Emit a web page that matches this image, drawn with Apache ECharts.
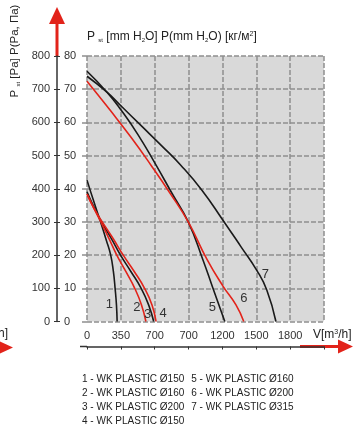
<!DOCTYPE html>
<html>
<head>
<meta charset="utf-8">
<script src="https://cdn.jsdelivr.net/npm/echarts@6/dist/echarts.min.js"></script>
<style>
  html, body { margin: 0; padding: 0; background: #fff; }
  #chart { width: 353px; height: 426px; }
</style>
</head>
<body>
<div id="chart"></div>
<script>
// x runs over the 7 grid columns, the printed flow values are just labels on them
const xTickLabels = ['0', '350', '700', '700', '1200', '1500', '1800', '']
const curveNames = [
  '1 - WK PLASTIC Ø150',
  '2 - WK PLASTIC Ø160',
  '3 - WK PLASTIC Ø200',
  '4 - WK PLASTIC Ø150',
  '5 - WK PLASTIC Ø160',
  '6 - WK PLASTIC Ø200',
  '7 - WK PLASTIC Ø315',
]
// [column, Pa]
const curve1 = [[0, 426], [0.18, 368], [0.4, 300], [0.57, 245], [0.7, 200], [0.78, 150], [0.83, 100], [0.87, 50], [0.89, 0]]
const curve2 = [[0, 384], [0.2, 342], [0.41, 300], [0.65, 250], [0.88, 200], [1.15, 150], [1.41, 100], [1.61, 50], [1.74, 0]]
const curve3 = [[0, 391], [0.2, 346], [0.43, 300], [0.72, 250], [0.99, 200], [1.3, 150], [1.6, 100], [1.82, 50], [1.97, 0]]
const curve4 = [[0, 384], [0.2, 342], [0.45, 300], [0.77, 250], [1.07, 200], [1.4, 150], [1.7, 100], [1.92, 50], [2.04, 0]]
const curve5 = [[0, 754], [0.59, 691], [1.0, 638], [1.5, 564], [2.04, 471], [2.5, 388], [2.99, 300], [3.42, 187], [3.72, 100], [4.07, 0]]
const curve6 = [[0, 724], [0.68, 637], [1.3, 555], [1.89, 471], [2.45, 387], [2.99, 300], [3.54, 188], [4.02, 106], [4.4, 50], [4.63, 0]]
const curve7 = [[0, 739], [0.59, 691], [1.0, 650], [1.6, 590], [2.2, 530], [2.77, 471], [3.4, 395], [4.01, 306], [4.55, 225], [5.01, 155], [5.31, 95], [5.58, 0]]
const curveLabelAt = [[0.66, 50], [1.47, 41], [1.79, 20], [2.25, 23], [3.7, 41], [4.63, 71], [5.27, 142]]

const curves = [curve1, curve2, curve3, curve4, curve5, curve6, curve7]
const curveColors = ['#1a1a1a', '#e2231a', '#1a1a1a', '#e2231a', '#1a1a1a', '#e2231a', '#1a1a1a']

const RED = '#e2231a'
const FONT = 'Liberation Sans, Arial, sans-serif'
const gridDash = { color: '#8e8e8e', type: [5, 2], width: 1.5 }

const chart = echarts.init(document.getElementById('chart'))

chart.setOption({
  animation: false,
  textStyle: { fontFamily: FONT },
  grid: {
    left: 87, right: 29, top: 56, bottom: 104.5,
    show: true, backgroundColor: '#d9d9d9', borderWidth: 0,
  },
  title: {
    text: '{a|P }{s|st}{a| [mm H}{s|2}{a|O] P(mm H}{s|2}{a|O) [кг/м}{u|2}{a|]}',
    left: 82, top: 26,
    textStyle: {
      fontWeight: 'normal',
      rich: {
        a: { fontSize: 12, color: '#222', fontWeight: 'normal', fontFamily: FONT },
        s: { fontSize: 6, color: '#222', fontWeight: 'normal', verticalAlign: 'bottom', fontFamily: FONT },
        u: { fontSize: 7, color: '#222', fontWeight: 'normal', verticalAlign: 'top', fontFamily: FONT },
      },
    },
  },
  legend: {
    orient: 'vertical',
    left: 72, top: 368, height: 56,
    itemGap: 2, itemWidth: 0, itemHeight: 0, icon: 'rect',
    selectedMode: false,
    textStyle: { fontSize: 10, color: '#222', width: 101, lineHeight: 12, fontFamily: FONT },
  },
  xAxis: {
    type: 'value', min: 0, max: 7, interval: 1,
    position: 'bottom', offset: 25,
    axisLine: { onZero: false, lineStyle: { color: '#333', width: 1.5 } },
    axisTick: { inside: false, length: 3, lineStyle: { color: '#333' } },
    axisLabel: {
      inside: true, margin: 5, fontSize: 11, color: '#333',
      formatter: (v) => xTickLabels[Math.round(v)],
    },
    splitLine: { show: true, lineStyle: gridDash },
  },
  yAxis: [
    {
      type: 'value', min: 0, max: 800, interval: 100,
      position: 'left', offset: 30,
      axisLine: { show: true, onZero: false, lineStyle: { color: '#333', width: 1.5 } },
      axisTick: { show: true, length: 3, lineStyle: { color: '#333' } },
      axisLabel: { margin: 7, fontSize: 11, color: '#333' },
      splitLine: { show: true, lineStyle: gridDash },
    },
    {
      type: 'value', min: 0, max: 800, interval: 100,
      position: 'left', offset: 30,
      axisLine: { show: false, onZero: false },
      axisTick: { show: true, inside: true, length: 3, lineStyle: { color: '#333' } },
      axisLabel: { inside: true, margin: 7, fontSize: 11, color: '#333', formatter: (v) => v / 10 },
      splitLine: { show: false },
    },
    {
      type: 'value', min: 0, max: 800, interval: 100,
      position: 'left', offset: 0,
      axisLine: { show: false, onZero: false },
      axisTick: { show: true, length: 5, lineStyle: gridDash },
      axisLabel: { show: false },
      splitLine: { show: false },
    },
  ],
  series: curves.map((pts, i) => ({
    name: curveNames[i],
    type: 'line',
    data: pts,
    smooth: 0.5,
    showSymbol: false,
    color: curveColors[i],
    lineStyle: { color: curveColors[i], width: 1.6 },
    z: i % 2 ? 4 : 3,
    markPoint: {
      symbol: 'circle', symbolSize: 0, silent: true,
      label: { show: true, formatter: String(i + 1), fontSize: 13, color: '#333', fontFamily: FONT },
      data: [{ coord: curveLabelAt[i] }],
    },
  })),
  graphic: [
    // vertical arrow above the pressure axis
    { type: 'rect', shape: { x: 55.5, y: 22, width: 3, height: 34 }, style: { fill: RED } },
    { type: 'polygon', shape: { points: [[49, 24], [57, 7], [65, 24]] }, style: { fill: RED } },
    // horizontal arrow at the end of the flow axis
    { type: 'line', shape: { x1: 80, y1: 346.5, x2: 87, y2: 346.5 }, style: { stroke: '#333', lineWidth: 1.5 } },
    { type: 'rect', shape: { x: 300, y: 345, width: 39, height: 3 }, style: { fill: RED } },
    { type: 'polygon', shape: { points: [[338, 339.5], [353, 346.5], [338, 353.5]] }, style: { fill: RED } },
    // cut-off arrow of the neighbouring chart
    { type: 'polygon', shape: { points: [[-3, 340], [13, 347.5], [-3, 355]] }, style: { fill: RED } },
    {
      type: 'text', x: 8, y: 334,
      style: { text: 'V[m³/h]', fontSize: 12, fontFamily: FONT, fill: '#222', align: 'right', verticalAlign: 'middle' },
    },
    {
      type: 'text', x: 313, y: 335,
      style: {
        text: '{a|V[m}{u|3}{a|/h]}', fontFamily: FONT, fill: '#222', verticalAlign: 'middle',
        rich: {
          a: { fontSize: 12, fill: '#222', fontFamily: FONT },
          u: { fontSize: 7, fill: '#222', verticalAlign: 'top', fontFamily: FONT },
        },
      },
    },
    {
      type: 'text', x: 15, y: 51, rotation: Math.PI / 2,
      style: {
        text: '{a|P }{s|st}{a| [Pa] P(Pa, Па)}', fontFamily: FONT, fill: '#222',
        align: 'center', verticalAlign: 'middle',
        rich: {
          a: { fontSize: 11.5, fill: '#222', fontFamily: FONT },
          s: { fontSize: 6, fill: '#222', verticalAlign: 'bottom', fontFamily: FONT },
        },
      },
    },
  ],
})
</script>
</body>
</html>
